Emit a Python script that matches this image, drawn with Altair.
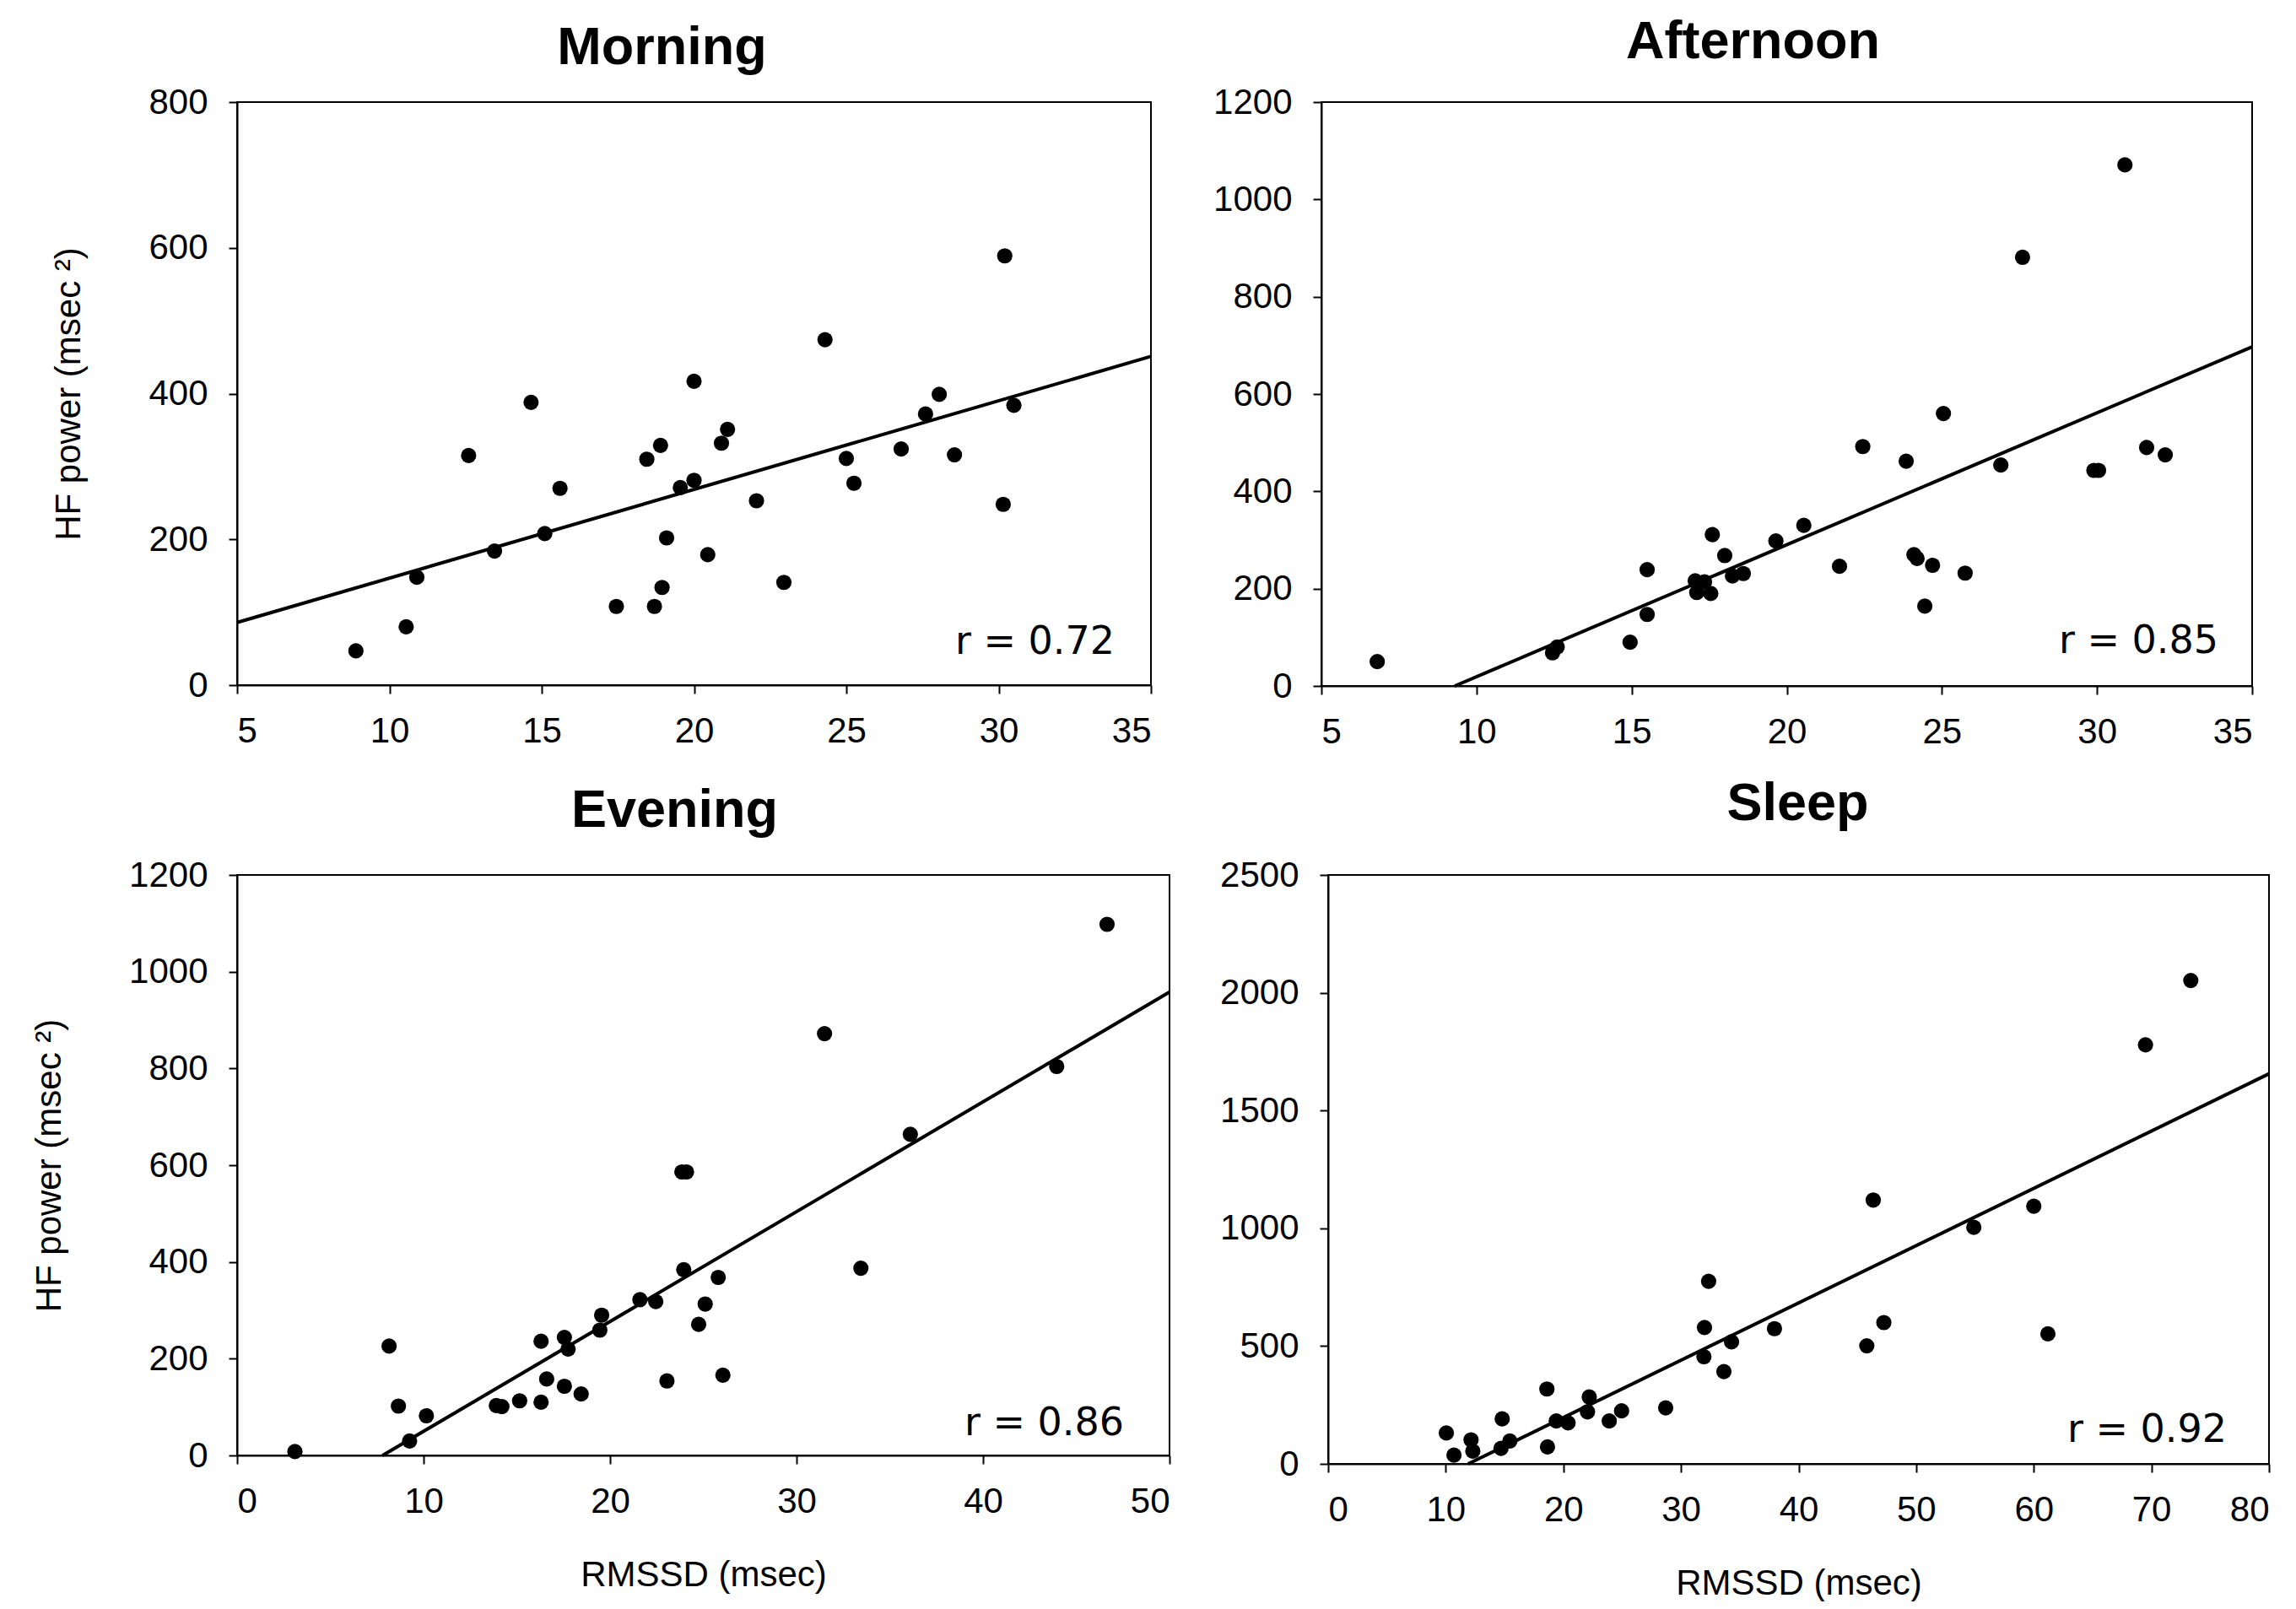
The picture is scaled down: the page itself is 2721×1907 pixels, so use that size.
import altair as alt
import pandas as pd

FONT = "Liberation Sans"

# ---------------- data ----------------
panel_names = ["Morning", "Afternoon", "Evening", "Sleep"]
r_labels = ["r = 0.72", "r = 0.85", "r = 0.86", "r = 0.92"]

morning_x = [8.9, 10.55, 10.9, 12.6, 13.45, 14.65, 15.1, 15.6, 17.45, 18.45, 18.7, 18.9,
             18.95, 19.1, 19.55, 20.0, 20.0, 20.45, 20.9, 21.1, 22.05, 22.95, 24.3, 25.0,
             25.25, 26.8, 27.6, 28.05, 28.55, 30.15, 30.2, 30.5]
morning_y = [47, 80, 148, 315, 184, 388, 208, 270, 108, 310, 108, 329,
             134, 202, 271, 281, 417, 179, 332, 351, 253, 141, 474, 311,
             277, 324, 372, 399, 316, 248, 589, 384]
morning_fit_x = [5, 35]
morning_fit_y = [86, 451]

afternoon_x = [6.8, 12.45, 12.6, 14.95, 15.5, 15.5, 17.05, 17.1, 17.35, 17.55, 17.6, 18.0,
               18.25, 18.6, 19.65, 20.55, 21.7, 22.45, 23.85, 24.1, 24.2, 24.45, 24.7, 25.05,
               25.75, 26.9, 27.6, 29.9, 30.05, 30.9, 31.6, 32.2]
afternoon_y = [50, 68, 80, 90, 147, 239, 216, 192, 214, 190, 311, 268,
               226, 231, 298, 330, 246, 492, 462, 270, 262, 164, 248, 560,
               232, 454, 881, 443, 443, 1071, 490, 475]
afternoon_fit_x = [9.3, 35]
afternoon_fit_y = [0, 697]

evening_x = [3.1, 8.15, 8.65, 9.25, 10.15, 13.9, 14.2, 15.15, 16.3, 16.3, 16.6, 17.55,
             17.75, 17.55, 18.45, 19.55, 19.45, 21.6, 22.45, 23.05, 23.85, 24.1, 23.95, 24.75,
             25.1, 25.8, 26.05, 31.5, 33.45, 36.1, 43.95, 46.65]
evening_y = [8, 226, 102, 30, 82, 103, 101, 113, 236, 110, 158, 244,
             220, 143, 127, 290, 259, 322, 318, 154, 586, 586, 384, 271,
             313, 368, 166, 872, 387, 664, 804, 1098]
evening_fit_x = [7.8, 50]
evening_fit_y = [0, 958]

sleep_x = [10.05, 10.7, 12.15, 12.3, 14.7, 14.8, 15.45, 18.6, 18.65, 19.4, 20.4, 22.05,
           22.2, 23.9, 24.95, 28.7, 31.95, 32.0, 32.35, 33.65, 34.3, 37.95, 45.8, 46.35,
           47.25, 54.9, 60.0, 61.2, 69.5, 73.35]
sleep_y = [131, 37, 102, 54, 66, 191, 97, 318, 72, 182, 174, 221,
           284, 182, 225, 238, 455, 579, 775, 392, 518, 574, 501, 1120,
           600, 1004, 1094, 552, 1779, 2052]
sleep_fit_x = [11.9, 80]
sleep_fit_y = [0, 1656]

x_ticks = {
    "Morning": [5, 10, 15, 20, 25, 30, 35],
    "Afternoon": [5, 10, 15, 20, 25, 30, 35],
    "Evening": [0, 10, 20, 30, 40, 50],
    "Sleep": [0, 10, 20, 30, 40, 50, 60, 70, 80],
}
y_ticks = {
    "Morning": [0, 200, 400, 600, 800],
    "Afternoon": [0, 200, 400, 600, 800, 1000, 1200],
    "Evening": [0, 200, 400, 600, 800, 1000, 1200],
    "Sleep": [0, 500, 1000, 1500, 2000, 2500],
}
y_title = "HF power (msec ²)"
x_title = "RMSSD (msec)"


def panel(name, xs, ys, fx, fy, r_text, w, h, t_offset, t_dx, r_right, r_bottom,
          show_ytitle, show_xtitle, ytitle_pad):
    xt = x_ticks[name]
    yt = y_ticks[name]
    xaxis_kw = dict(values=xt, format="d")
    xaxis_kw["title"] = x_title if show_xtitle else None
    yaxis_kw = dict(values=yt, format="d", titlePadding=ytitle_pad)
    yaxis_kw["title"] = y_title if show_ytitle else None

    xs_scale = alt.Scale(domain=[xt[0], xt[-1]], nice=False, zero=False)
    ys_scale = alt.Scale(domain=[yt[0], yt[-1]], nice=False, zero=False)

    pts = pd.DataFrame({"x": xs, "y": ys})
    fit = pd.DataFrame({"x": fx, "y": fy})
    lab = pd.DataFrame({"t": [r_text]})

    line = alt.Chart(fit).mark_line(color="black", strokeWidth=4).encode(
        x=alt.X("x:Q", scale=xs_scale, axis=alt.Axis(**xaxis_kw)),
        y=alt.Y("y:Q", scale=ys_scale, axis=alt.Axis(**yaxis_kw)),
    )
    dots = alt.Chart(pts).mark_circle(color="black", opacity=1, size=330).encode(
        x=alt.X("x:Q", scale=xs_scale),
        y=alt.Y("y:Q", scale=ys_scale),
    )
    txt = alt.Chart(lab).mark_text(
        align="right", baseline="alphabetic", font="DejaVu Sans", fontSize=46, color="black"
    ).encode(
        text="t:N",
        x=alt.value(w - r_right),
        y=alt.value(h - r_bottom),
    )
    return alt.layer(line, dots, txt).properties(
        width=w,
        height=h,
        title=alt.TitleParams(
            text=name, font=FONT, fontSize=63, fontWeight="bold", color="black",
            anchor="middle", frame="group", baseline="alphabetic",
            offset=t_offset, dx=t_dx,
        ),
    )


m = panel("Morning", morning_x, morning_y, morning_fit_x, morning_fit_y, r_labels[0],
          1083, 691, -39, -38, 43, 37, True, False, 72)
a = panel("Afternoon", afternoon_x, afternoon_y, afternoon_fit_x, afternoon_fit_y, r_labels[1],
          1103, 692, -32, -40, 40, 39, False, False, 40)
e = panel("Evening", evening_x, evening_y, evening_fit_x, evening_fit_y, r_labels[2],
          1105, 688, -27, -34, 54, 24, True, True, 72)
s = panel("Sleep", sleep_x, sleep_y, sleep_fit_x, sleep_fit_y, r_labels[3],
          1115, 698, -19, -1, 50, 26, False, True, 40)

top = alt.hconcat(m, a, spacing=63)
bottom = alt.hconcat(e, s, spacing=49)

chart = alt.vconcat(top, bottom, spacing=32).properties(
    padding={"left": 28, "top": 10, "right": 0, "bottom": 0},
    background="white",
).configure_view(
    stroke="black", strokeWidth=2, fill="white"
).configure_axis(
    grid=False,
    domain=True,
    domainColor="black",
    domainWidth=2,
    ticks=True,
    tickColor="black",
    tickSize=10,
    tickWidth=2,
    labelFont=FONT,
    labelFontSize=42,
    labelColor="black",
    labelPadding=25,
    labelOverlap=False,
    titleFont=FONT,
    titleFontSize=42,
    titleFontWeight="normal",
    titleColor="black",
).configure_axisX(
    labelPadding=24,
    titlePadding=46,
)

chart.save("out.html", embed_options={"renderer": "svg", "actions": False})
